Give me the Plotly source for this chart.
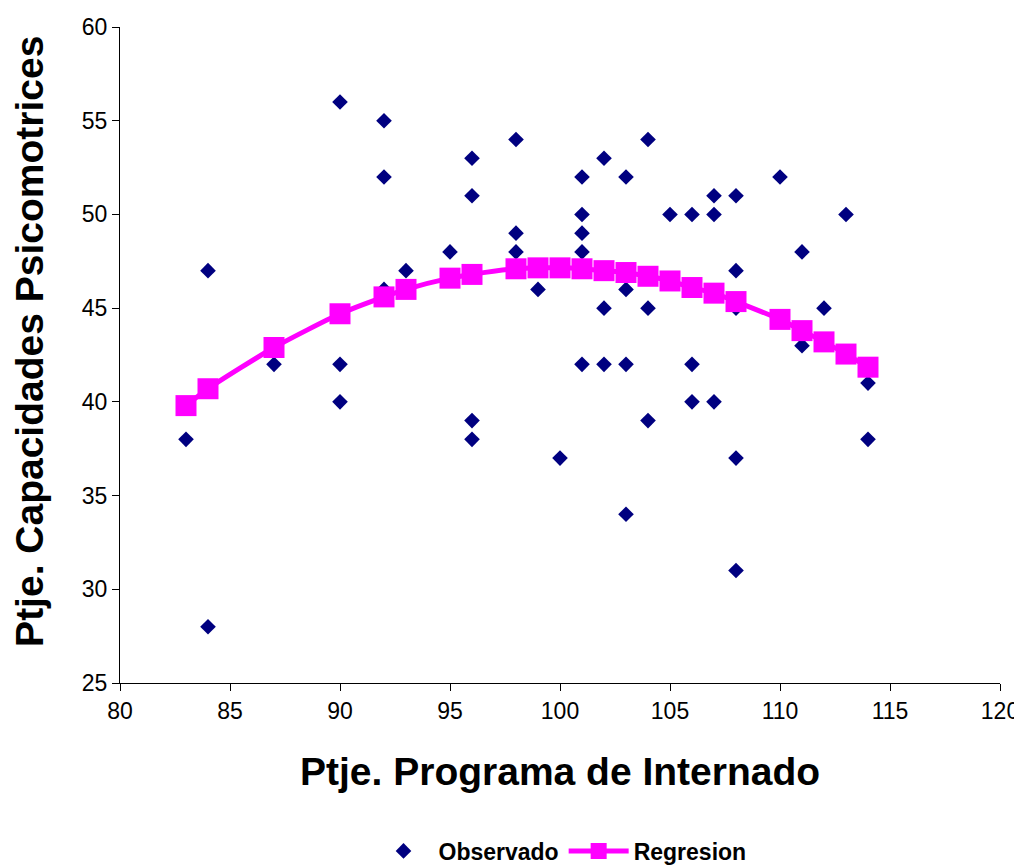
import plotly.graph_objects as go

# Observed data (Ptje. Programa de Internado, Ptje. Capacidades Psicomotrices)
obs_x = [83, 84, 84, 87, 90, 90, 90, 92, 92, 92, 93, 95,
         96, 96, 96, 96, 98, 98, 98, 99, 100,
         101, 101, 101, 101, 101, 102, 102, 102,
         103, 103, 103, 103, 104, 104, 104, 105,
         106, 106, 106, 107, 107, 107,
         108, 108, 108, 108, 108, 110, 111, 111, 112, 113, 114, 114]
obs_y = [38, 47, 28, 42, 56, 42, 40, 55, 52, 46, 47, 48,
         53, 51, 39, 38, 54, 49, 48, 46, 37,
         52, 50, 49, 48, 42, 53, 45, 42,
         52, 46, 42, 34, 54, 45, 39, 50,
         50, 42, 40, 51, 50, 40,
         51, 47, 45, 37, 31, 52, 48, 43, 45, 50, 41, 38]

# Regression (fitted values)
reg_x = [83, 84, 87, 90, 92, 93, 95, 96, 98, 99, 100, 101, 102, 103,
         104, 105, 106, 107, 108, 110, 111, 112, 113, 114]
reg_y = [39.8, 40.7, 42.9, 44.7, 45.6, 46.0, 46.6, 46.8, 47.1, 47.15, 47.15,
         47.1, 47.0, 46.9, 46.7, 46.45, 46.1, 45.8, 45.35, 44.4, 43.8, 43.2,
         42.55, 41.85]

x_ticks = [80, 85, 90, 95, 100, 105, 110, 115, 120]
y_ticks = [25, 30, 35, 40, 45, 50, 55, 60]

FONT = "Liberation Sans, Arial, sans-serif"

fig = go.Figure()
fig.add_trace(go.Scatter(
    x=obs_x, y=obs_y, mode="markers", name="<b>Observado</b>",
    marker=dict(symbol="diamond", size=12, color="#000080",
                line=dict(width=0)),
))
fig.add_trace(go.Scatter(
    x=reg_x, y=reg_y, mode="lines+markers", name="<b>Regresion</b>",
    line=dict(color="#FF00FF", width=5, shape="spline", smoothing=0.6),
    marker=dict(symbol="square", size=21, color="#FF00FF",
                line=dict(width=0)),
))

# The page body adds an 8px margin; the figure is sized to compensate.
fig.update_layout(
    width=1014, height=857,
    margin=dict(l=112, r=22, t=19, b=182, autoexpand=False),
    paper_bgcolor="white", plot_bgcolor="white",
    font=dict(family=FONT, size=22, color="black"),
    showlegend=True,
    legend=dict(orientation="h", x=0.5, xanchor="center", y=-0.256,
                yanchor="middle", font=dict(size=23, color="black", family=FONT),
                itemwidth=60, traceorder="normal"),
    xaxis=dict(range=[80, 120], tickvals=x_ticks, ticks="outside", ticklen=7,
               tickcolor="black", showline=True, linecolor="black", linewidth=1,
               showgrid=False, zeroline=False, tickfont=dict(size=23),
               automargin=False),
    yaxis=dict(range=[25, 60], tickvals=y_ticks, ticks="outside", ticklen=7,
               tickcolor="black", showline=True, linecolor="black", linewidth=1,
               showgrid=False, zeroline=False, tickfont=dict(size=23),
               automargin=False),
    annotations=[
        dict(text="<b>Ptje. Programa de Internado</b>", xref="paper", yref="paper",
             x=0.5, y=(683 - 771) / 656, xanchor="center", yanchor="middle",
             showarrow=False, font=dict(size=39, family=FONT, color="black")),
        dict(text="<b>Ptje. Capacidades Psicomotrices</b>", xref="paper", yref="paper",
             x=(30 - 120) / 880, y=0.52, xanchor="center", yanchor="middle",
             textangle=-90, showarrow=False,
             font=dict(size=39, family=FONT, color="black")),
    ],
)

fig.write_html("out.html")
